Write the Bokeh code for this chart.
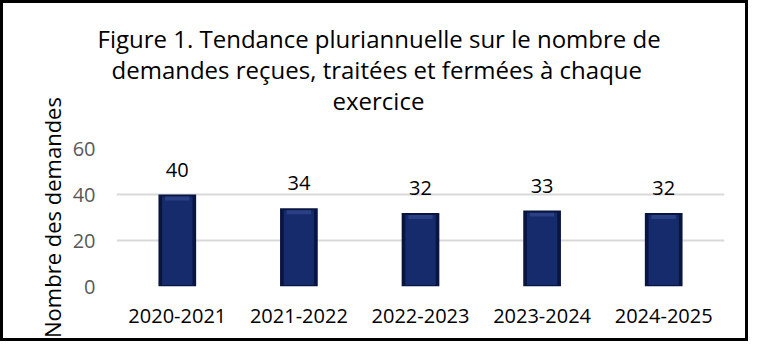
from bokeh.plotting import figure
from bokeh.models import Range1d, LabelSet, ColumnDataSource, Title
from bokeh.core.properties import value
from bokeh.embed import file_html
from bokeh.resources import INLINE

categories = ["2020-2021", "2021-2022", "2022-2023", "2023-2024", "2024-2025"]
counts = [40, 34, 32, 33, 32]
y_ticks = [0, 20, 40, 60]
title_lines = [
    "Figure 1. Tendance pluriannuelle sur le nombre de",
    "demandes reçues, traitées et fermées à chaque",
    "exercice",
]
y_label = "Nombre des demandes"

FONT = "Open Sans"

src = ColumnDataSource(dict(
    cat=categories,
    val=counts,
    inner_top=[v - 0.9 for v in counts],
    bevel_bottom=[v - 2.6 for v in counts],
    lbl=[str(v) for v in counts],
))

p = figure(
    x_range=categories, y_range=Range1d(0, 60),
    width=748, height=341,
    output_backend="svg", toolbar_location=None,
    min_border_left=113, min_border_right=27,
    min_border_top=145, min_border_bottom=58,
)
p.styles = {"border": "3px solid black"}
p.outline_line_color = None
p.background_fill_color = "white"
p.border_fill_color = "white"

# bars with a soft bevel look
p.vbar(x="cat", top="val", bottom=0, width=0.31, source=src,
       fill_color="#081541", line_color=None)
p.vbar(x="cat", top="inner_top", bottom=0.7, width=0.25, source=src,
       fill_color="#162B6C", line_color=None)
p.vbar(x="cat", top="inner_top", bottom="bevel_bottom", width=0.2, source=src,
       fill_color="#2A4084", line_color=None)

labels = LabelSet(x="cat", y="val", text="lbl", source=src,
                  text_align="center", text_baseline="alphabetic",
                  y_offset=18, text_font=value(FONT), text_font_size="20px",
                  text_color="black")
p.add_layout(labels)

# axes
p.xaxis.axis_line_color = None
p.xaxis.major_tick_line_color = None
p.xaxis.minor_tick_line_color = None
p.xaxis.major_label_text_font = FONT
p.xaxis.major_label_text_font_size = "20px"
p.xaxis.major_label_text_color = "black"
p.xaxis.major_label_standoff = 16

p.yaxis.ticker = y_ticks
p.yaxis.axis_line_color = None
p.yaxis.major_tick_line_color = None
p.yaxis.minor_tick_line_color = None
p.yaxis.major_label_text_font = FONT
p.yaxis.major_label_text_font_size = "20px"
p.yaxis.major_label_text_color = "#595959"
p.yaxis.major_label_standoff = 15
p.yaxis.axis_label = y_label
p.yaxis.axis_label_text_font = FONT
p.yaxis.axis_label_text_font_size = "22px"
p.yaxis.axis_label_text_font_style = "normal"
p.yaxis.axis_label_text_color = "black"
p.yaxis.axis_label_standoff = 3

p.xgrid.grid_line_color = None
p.ygrid.grid_line_color = "#D9D9D9"
p.ygrid.grid_line_width = 2

# spacer between the title block and the plot area
p.add_layout(Title(text=" ", text_font=FONT, text_font_size="23px", standoff=0),
             "above")
# title lines: the one nearest to the frame is added first
offsets = [-19, -5, 216]
for txt, off in reversed(list(zip(title_lines, offsets))):
    p.add_layout(Title(text=txt, align="left", offset=off, standoff=-4,
                       text_font=FONT, text_font_size="24px",
                       text_font_style="normal", text_color="black"),
                 "above")

open("out.html", "w").write(file_html(p, INLINE))
